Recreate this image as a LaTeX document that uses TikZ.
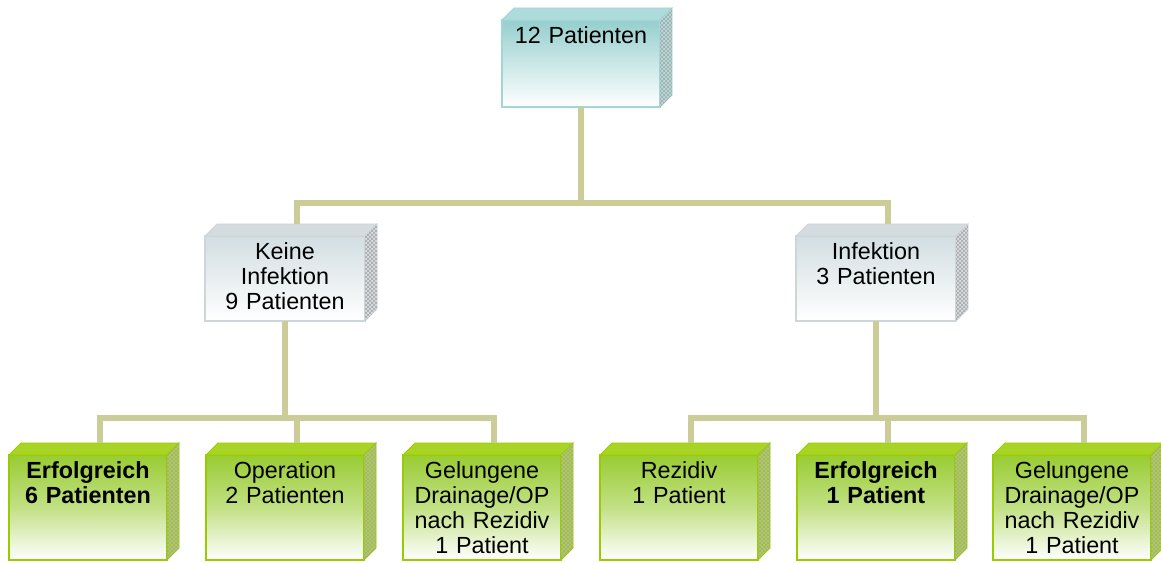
\documentclass[tikz,border=0pt]{standalone}
\usepackage{fontspec}
\setmainfont{Liberation Sans}
\usepackage{xcolor}
\usetikzlibrary{positioning,patterns}

\definecolor{lineKhaki}{RGB}{204,204,153}
\definecolor{tealTop}{RGB}{150,206,206}
\definecolor{tealEdge}{RGB}{160,214,214}
\definecolor{greyTop}{RGB}{210,222,226}
\definecolor{greyEdge}{RGB}{206,214,218}
\definecolor{greenTop}{RGB}{153,204,51}
\definecolor{greenEdge}{RGB}{153,204,0}

\tikzset{
  conn/.style={draw=lineKhaki, line width=4.5pt},
  cube/.style={draw, inner sep=0pt, outer sep=0pt, line width=1.2pt, minimum width=118.5pt},
  tealbox/.style={cube, draw=tealEdge, top color=tealTop, bottom color=white, minimum height=65.25pt},
  greybox/.style={cube, draw=greyEdge, top color=greyTop, bottom color=white, minimum width=120pt, minimum height=63.75pt},
  greenbox/.style={cube, draw=greenEdge, line width=1.8pt, top color=greenTop, bottom color=white, middle color=greenTop!60!white, minimum height=78.75pt},
  boxtext/.style={anchor=north, text width=114pt, align=center, inner sep=5pt, font=\fontsize{17.5}{18.75}\selectfont},
  boldtext/.style={boxtext, font=\fontsize{17.5}{18.75}\selectfont\bfseries},
  topface/.style={fill=#1!85!white, draw=#1, line width=0.6pt},
  sideface/.style={fill=#1!80!white, draw=#1, line width=0.6pt, postaction={pattern=crosshatch, pattern color=gray!70}},
}

\begin{document}
\begin{tikzpicture}[x=0.75pt,y=-0.75pt]
\useasboundingbox (0,0) rectangle (1161,563);

% front faces
\node[tealbox] (top) at (581,63.5) {};
\node[greybox] (kl) at (285,278.5) {};
\node[greybox] (inf) at (876,278.5) {};
\node[greenbox] (b1) at (88,507.5) {};
\node[greenbox] (b2) at (285,507.5) {};
\node[greenbox] (b3) at (482,507.5) {};
\node[greenbox] (b4) at (679,507.5) {};
\node[greenbox] (b5) at (876,507.5) {};
\node[greenbox] (b6) at (1072,507.5) {};

% top and side faces
\foreach \n/\c in {top/tealEdge, kl/greyEdge, inf/greyEdge, b1/greenEdge, b2/greenEdge, b3/greenEdge, b4/greenEdge, b5/greenEdge, b6/greenEdge} {
  \draw[topface=\c] (\n.north west) -- ++(12,-12) -- ([shift={(12,-12)}]\n.north east) -- (\n.north east) -- cycle;
  \draw[sideface=\c] (\n.north east) -- ++(12,-12) -- ([shift={(12,-12)}]\n.south east) -- (\n.south east) -- cycle;
}

% texts
\node[boxtext] (top-t) at (top.north) {12 Patienten};
\node[boxtext] (kl-t) at (kl.north) {Keine\\Infektion\\9 Patienten};
\node[boxtext] (inf-t) at (inf.north) {Infektion\\3 Patienten};
\node[boldtext] (b1-t) at (b1.north) {Erfolgreich\\6 Patienten};
\node[boxtext] (b2-t) at (b2.north) {Operation\\2 Patienten};
\node[boxtext] (b3-t) at (b3.north) {Gelungene\\Drainage/OP\\nach Rezidiv\\1 Patient};
\node[boxtext] (b4-t) at (b4.north) {Rezidiv\\1 Patient};
\node[boldtext] (b5-t) at (b5.north) {Erfolgreich\\1 Patient};
\node[boxtext] (b6-t) at (b6.north) {Gelungene\\Drainage/OP\\nach Rezidiv\\1 Patient};

% connectors
\draw[conn] (top.south) -- ++(0,96) -| ([shift={(12,-12)}]kl.north);
\draw[conn] (top.south) -- ++(0,96) -| ([shift={(12,-12)}]inf.north);
\foreach \b in {b1,b2,b3}
  \draw[conn] (kl.south) -- ++(0,97) -| ([shift={(12,-12)}]\b.north);
\foreach \b in {b4,b5,b6}
  \draw[conn] (inf.south) -- ++(0,97) -| ([shift={(12,-12)}]\b.north);
\end{tikzpicture}
\end{document}
